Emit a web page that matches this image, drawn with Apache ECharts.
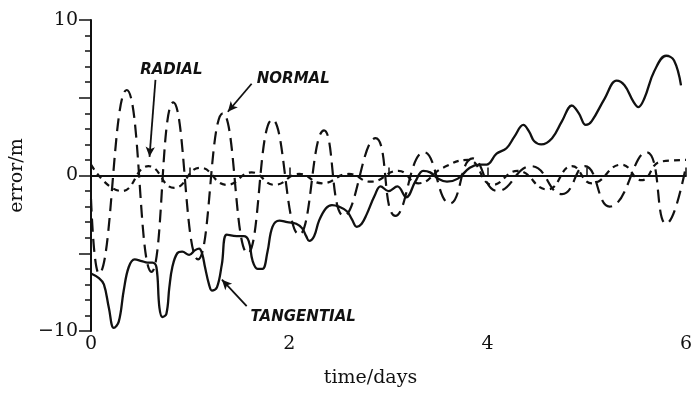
<!DOCTYPE html>
<html>
<head>
<meta charset="utf-8">
<script src="https://cdn.jsdelivr.net/npm/echarts@6/dist/echarts.min.js"></script>
<style>
html, body { margin: 0; padding: 0; background: #fff; }
#chart { width: 695px; height: 393px; }
</style>
</head>
<body>
<div id="chart"></div>
<script>
// ------------------ data (days, metres) ------------------
var tangentialDays = [0, 0.08, 0.13, 0.18, 0.23, 0.28, 0.33, 0.38, 0.44, 0.51, 0.57, 0.62, 0.66, 0.69, 0.72, 0.76,
    0.79, 0.82, 0.87, 0.92, 0.99, 1.05, 1.09, 1.12, 1.15, 1.19, 1.22, 1.27, 1.32, 1.37, 1.47, 1.54, 1.59, 1.63,
    1.68, 1.73, 1.78, 1.83, 1.90, 1.98, 2.07, 2.13, 2.17, 2.20, 2.25, 2.30, 2.37, 2.43, 2.50, 2.58, 2.63, 2.68,
    2.73, 2.78, 2.86, 2.92, 3.00, 3.09, 3.18, 3.27, 3.35, 3.42, 3.50, 3.59, 3.70, 3.82, 3.92, 3.99, 4.09, 4.19,
    4.27, 4.36, 4.42, 4.47, 4.54, 4.65, 4.75, 4.85, 4.92, 4.99, 5.05, 5.18, 5.30, 5.38, 5.47, 5.52, 5.58, 5.68,
    5.80, 5.88, 5.95];
var tangentialError = [-6.3, -6.6, -7.0, -8.5, -9.8, -9.4, -7.4, -5.9, -5.4, -5.5, -5.6, -5.6, -5.9, -8.5, -9.1, -8.9,
    -7.2, -5.9, -5.0, -4.9, -5.1, -4.8, -4.7, -5.0, -5.9, -7.0, -7.4, -7.2, -5.7, -3.8, -3.9, -3.9, -4.2, -5.5,
    -6.0, -6.0, -4.9, -3.3, -2.9, -3.0, -3.1, -3.4, -3.9, -4.2, -3.9, -2.9, -2.1, -1.9, -2.0, -2.3, -2.8, -3.3,
    -3.1, -2.5, -1.3, -0.7, -1.0, -0.7, -1.4, -0.4, 0.3, 0.2, -0.2, -0.4, -0.2, 0.5, 0.7, 0.7, 1.4, 1.75,
    2.5, 3.25, 2.8, 2.2, 2.0, 2.4, 3.5, 4.5, 4.0, 3.25, 3.5, 4.95, 6.1, 5.8, 4.75, 4.4, 4.95, 6.7,
    7.7, 7.4, 5.8];

var normalDays = [0, 0.08, 0.36, 0.61, 0.83, 1.08, 1.33, 1.58, 1.83, 2.10, 2.35, 2.55, 2.87, 3.07, 3.36, 3.62,
    3.85, 4.10, 4.44, 4.75, 4.98, 5.23, 5.60, 5.80, 6.00];
var normalError = [-1.5, -6.3, 5.5, -6.2, 4.7, -5.4, 4.0, -5.0, 3.6, -3.8, 2.9, -2.6, 2.4, -2.6, 1.5, -1.8,
    1.1, -1.0, 0.6, -1.2, 0.6, -2.0, 1.5, -3.1, 0.6];

var radialDays = [0, 0.31, 0.58, 0.84, 1.10, 1.37, 1.62, 1.85, 2.10, 2.33, 2.60, 2.82, 3.10, 3.30, 3.55, 3.80,
    4.05, 4.30, 4.60, 4.85, 5.05, 5.35, 5.55, 5.75, 6.00];
var radialError = [0.7, -1.0, 0.6, -0.8, 0.5, -0.6, 0.2, -0.6, 0.1, -0.5, 0.1, -0.4, 0.3, -0.5, 0.5, 1.0,
    -0.6, 0.3, -0.9, 0.6, -0.5, 0.7, -0.3, 0.9, 1.0];

var xLabels = [0, 2, 4, 6];
var yLabels = [-10, 0, 10];

var INK = '#111';
var SERIF = '"DejaVu Serif", "Liberation Serif", serif';
var SANS = '"DejaVu Sans", "Liberation Sans", sans-serif';

function pairs(xs, ys) {
    return xs.map(function (x, i) { return [x, ys[i]]; });
}

function arrow(from, to) {
    return [{coord: from, symbol: 'none'}, {coord: to, symbol: 'arrow', symbolSize: [7, 10]}];
}

function tag(text, at) {
    return {name: text, coord: at};
}

var myChart = echarts.init(document.getElementById('chart'));

var option = {
    animation: false,
    backgroundColor: '#fff',
    grid: {left: 89, right: 3, top: 20, bottom: 60},
    xAxis: {
        type: 'value', min: 0, max: 6, interval: 1,
        name: 'time/days', nameLocation: 'middle', nameGap: 38,
        nameTextStyle: {fontFamily: SERIF, fontSize: 19, color: INK, padding: [0, 36, 0, 0]},
        axisLine: {lineStyle: {color: INK, width: 2}},
        axisTick: {inside: true, length: 8, lineStyle: {color: INK, width: 1.5}},
        axisLabel: {
            margin: 4, fontFamily: SERIF, fontSize: 19, color: INK,
            formatter: function (v) { return xLabels.indexOf(v) >= 0 ? String(v) : ''; }
        },
        splitLine: {show: false}
    },
    yAxis: {
        type: 'value', min: -10, max: 10, interval: 5,
        name: 'error/m', nameLocation: 'middle', nameGap: 52,
        nameTextStyle: {fontFamily: SERIF, fontSize: 19, color: INK},
        axisLine: {lineStyle: {color: INK, width: 2}},
        axisTick: {inside: false, length: 12, lineStyle: {color: INK, width: 1.5}},
        minorTick: {show: true, splitNumber: 5, length: 6, lineStyle: {color: INK, width: 1.5}},
        axisLabel: {
            margin: 13, fontFamily: SERIF, fontSize: 19, color: INK,
            formatter: function (v) {
                if (yLabels.indexOf(v) < 0) return '';
                return v < 0 ? '\u2212' + (-v) : String(v);
            }
        },
        splitLine: {show: false}
    },
    series: [
        {
            name: 'TANGENTIAL', type: 'line', smooth: 0.4, symbol: 'none',
            data: pairs(tangentialDays, tangentialError),
            lineStyle: {color: INK, width: 2.3, type: 'solid'},
            markLine: {
                silent: true, animation: false,
                label: {show: false},
                lineStyle: {color: INK, width: 1.8, type: 'solid'},
                symbol: 'none',
                data: [
                    [{coord: [0, 0], symbol: 'none'}, {coord: [6, 0], symbol: 'none'}],
                    arrow([0.65, 6.15], [0.59, 1.2]),
                    arrow([1.62, 5.9], [1.38, 4.1]),
                    arrow([1.57, -8.4], [1.32, -6.7])
                ]
            },
            markPoint: {
                silent: true, animation: false,
                symbol: 'circle', symbolSize: 1,
                itemStyle: {color: 'rgba(0,0,0,0)'},
                label: {
                    show: true, position: 'inside', formatter: '{b}',
                    fontFamily: SANS, fontSize: 15, fontWeight: 'bold', fontStyle: 'italic', color: INK
                },
                data: [
                    tag('RADIAL', [0.81, 6.8]),
                    tag('NORMAL', [2.04, 6.2]),
                    tag('TANGENTIAL', [2.14, -9.1])
                ]
            }
        },
        {
            name: 'NORMAL', type: 'line', smooth: 0.5, symbol: 'none',
            data: pairs(normalDays, normalError),
            lineStyle: {color: INK, width: 2.2, type: [13, 7]}
        },
        {
            name: 'RADIAL', type: 'line', smooth: 0.5, symbol: 'none',
            data: pairs(radialDays, radialError),
            lineStyle: {color: INK, width: 2.2, type: [6, 5]}
        }
    ]
};
myChart.setOption(option);
</script>
</body>
</html>
